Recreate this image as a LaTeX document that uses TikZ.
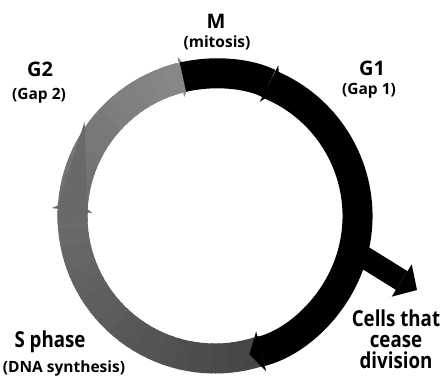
\documentclass[tikz,border=0pt]{standalone}
\usepackage{fontspec}
\setmainfont{Open Sans}
\newfontfamily\condfont{Open Sans}[FakeStretch=0.85]
\usetikzlibrary{arrows.meta}
\begin{document}
\begin{tikzpicture}[x=1pt,y=1pt,
  ring/.style={line width=30pt},
  tipstyle/.style={-{Triangle[width=41pt,length=12pt,line width=0pt]}},
  blk/.style={ring, draw=black, tipstyle},
  title/.style={font=\bfseries\fontsize{20}{20}\selectfont, inner sep=0pt, anchor=base},
  sub/.style={font=\bfseries\fontsize{15.5}{15.5}\selectfont, inner sep=0pt, anchor=base},
  big/.style={font=\condfont\bfseries\fontsize{22}{21}\selectfont, inner sep=0pt, align=center},
]
\useasboundingbox (0,0) rectangle (442,-376);
\coordinate (C) at (215,-216);
% gray part of the cycle (S phase -> G2 -> M), darker near S phase
\foreach \a in {-70,-73,...,-253}{
  \pgfmathtruncatemacro{\pct}{47+27*(\a+256)/186}
  \draw[ring, draw=black!\pct] ([shift={(\a:142.5)}]C) arc[start angle=\a, end angle=\a-3.6, radius=142.5];
}
\draw[ring, draw=black!59, tipstyle] ([shift={(-177:142.5)}]C) arc[start angle=-177, end angle=-187, radius=142.5];
\draw[ring, draw=black!47, tipstyle] ([shift={(-250:142.5)}]C) arc[start angle=-250, end angle=-261, radius=142.5];
% black part of the cycle (M -> G1 -> S)
\draw[blk] ([shift={(103:142.5)}]C) arc[start angle=103, end angle=63, radius=142.5];
\draw[blk] ([shift={(67:142.5)}]C) arc[start angle=67, end angle=-76, radius=142.5];
% branch to cells that cease division
\coordinate (B0) at ([shift={(-14:142.5)}]C);
\coordinate (B1) at (417,-290);
\draw[line width=22pt, -{Triangle[width=38pt,length=18pt,line width=0pt]}] (B0) -- (B1);
% labels
\node[title] (m) at (216,-28) {M};
\node[sub] (mi) at (217,-47) {(mitosis)};
\node[title] (g1) at (372,-75) {G1};
\node[sub] (g1s) at (369,-94) {(Gap 1)};
\node[title] (g2) at (40,-76) {G2};
\node[sub] (g2s) at (39,-99) {(Gap 2)};
\node[big, anchor=base] (s) at (50,-347) {S phase};
\node[sub] (dna) at (64,-372) {(DNA synthesis)};
\node[big, anchor=north] (cease) at (396,-310) {Cells that\\cease\\division};
\end{tikzpicture}
\end{document}
